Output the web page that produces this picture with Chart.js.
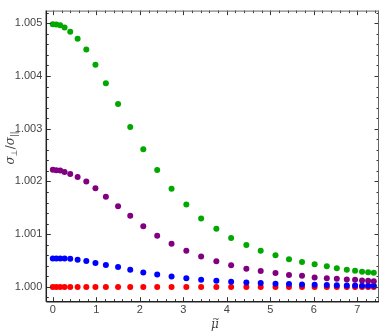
<!DOCTYPE html>
<html lang="en">
<head>
  <meta charset="UTF-8">
  <title>sigma ratio vs mu</title>
  <script src="https://cdn.jsdelivr.net/npm/chart.js"></script>
  <style>
    * { margin: 0; padding: 0; box-sizing: border-box; }
    body { background: #fff; width: 382px; height: 333px; overflow: hidden; }
    #wrap { position: relative; width: 382px; height: 333px; }
  </style>
</head>
<body>
  <div id="wrap"><canvas id="chart" width="382" height="333"></canvas></div>

  <script>
    // values
    const mu = [0, 0.08, 0.17, 0.27, 0.4, 0.57, 0.77, 0.98, 1.22, 1.5, 1.78, 2.08, 2.4, 2.73, 3.07, 3.41,
      3.76, 4.1, 4.45, 4.78, 5.12, 5.43, 5.73, 6.02, 6.3, 6.53, 6.76, 6.95, 7.11, 7.25, 7.38];

    const greenVals = [1.00498, 1.004975, 1.00496, 1.00492, 1.00484, 1.004705, 1.004503, 1.004214, 1.003863,
      1.003471, 1.003035, 1.002611, 1.002219, 1.001864, 1.001562, 1.0013, 1.001101, 1.00093, 1.000796,
      1.000685, 1.000599, 1.000525, 1.000475, 1.00043, 1.000392, 1.000352, 1.000327, 1.000308, 1.00029,
      1.000278, 1.00027];

    const purpleVals = [1.00222, 1.002213, 1.002206, 1.00218, 1.00214, 1.002085, 1.001998, 1.00187, 1.00171,
      1.00153, 1.00135, 1.00115, 1.00097, 1.00082, 1.000687, 1.000577, 1.000486, 1.000413, 1.000344,
      1.000302, 1.000265, 1.000228, 1.000212, 1.000179, 1.000166, 1.000155, 1.000142, 1.000134, 1.000123,
      1.000118, 1.00011];

    const blueVals = [1.000541, 1.000541, 1.00054, 1.000538, 1.000534, 1.000516, 1.000492, 1.000455, 1.000418,
      1.000376, 1.000326, 1.000276, 1.000234, 1.000197, 1.000166, 1.000136, 1.000118, 1.0001, 1.000085,
      1.000073, 1.000062, 1.000054, 1.000047, 1.000041, 1.000036, 1.000032, 1.000029, 1.000026, 1.000024,
      1.000022, 1.000021];

    const redVals = [1.000001, 1.000001, 1.000001, 1.000001, 1.000001, 1.000001, 1.000001, 1.000001, 1.000001,
      1.000001, 1.000001, 1.000001, 1.000001, 1.000001, 1.000001, 1.000001, 1.000001, 1.000001, 1.000001,
      1.000001, 1.000001, 1.000001, 1.000001, 1.000001, 1.000001, 1.000001, 1.000001, 1.000001, 1.000001,
      1.000001, 1.000001];

    const xTicks = [0, 1, 2, 3, 4, 5, 6, 7];
    const yTicks = [1.000, 1.001, 1.002, 1.003, 1.004, 1.005];

    const toPoints = vals => vals.map((v, i) => ({ x: mu[i], y: v }));

    const series = [
      { vals: greenVals, color: '#00a800' },
      { vals: purpleVals, color: '#800080' },
      { vals: blueVals, color: '#0000ff' },
      { vals: redVals, color: '#ff0000' }
    ];

    // frame with inward major/minor ticks on all four sides, plus axis titles
    const framePlugin = {
      id: 'frame',
      afterDraw(chart) {
        const ctx = chart.ctx;
        const a = chart.chartArea;
        const xs = chart.scales.x;
        const ys = chart.scales.y;
        ctx.save();

        // ticks
        ctx.strokeStyle = '#333';
        ctx.lineWidth = 1;
        const tick = (x1, y1, x2, y2) => {
          ctx.beginPath(); ctx.moveTo(x1, y1); ctx.lineTo(x2, y2); ctx.stroke();
        };
        for (let k = -1; k <= 40; k++) {
          const v = k * 0.2;
          if (v < xs.min || v > xs.max) continue;
          const px = Math.round(xs.getPixelForValue(v)) + 0.5;
          const len = k % 5 === 0 ? 4.5 : 2.5;
          tick(px, a.bottom, px, a.bottom - len);
          tick(px, a.top, px, a.top + len);
        }
        for (let k = -2; k <= 30; k++) {
          const v = 1 + k * 0.0002;
          if (v < ys.min || v > ys.max) continue;
          const py = Math.round(ys.getPixelForValue(v)) + 0.5;
          const len = ((k % 5) + 5) % 5 === 0 ? 4.5 : 2.5;
          tick(a.left, py, a.left + len, py);
          tick(a.right, py, a.right - len, py);
        }

        // frame lines
        ctx.strokeStyle = '#666';
        ctx.lineWidth = 1;
        tick(a.left, a.top + 0.5, a.right, a.top + 0.5);
        tick(a.right - 0.5, a.top, a.right - 0.5, a.bottom);
        ctx.strokeStyle = '#222';
        ctx.lineWidth = 1.5;
        tick(a.left, a.bottom, a.right, a.bottom);
        tick(a.left, a.top, a.left, a.bottom);

        // x title
        ctx.fillStyle = '#444';
        ctx.textAlign = 'center';
        ctx.textBaseline = 'middle';
        ctx.font = 'italic 12px "DejaVu Serif"';
        ctx.fillText('μ', 215, 325);
        ctx.font = '9px "DejaVu Sans"';
        ctx.fillText('~', 216, 319.5);

        // y title: sigma_perp / sigma_||
        ctx.translate(10, 148);
        ctx.rotate(-Math.PI / 2);
        ctx.textAlign = 'left';
        ctx.textBaseline = 'alphabetic';
        const parts = [
          { t: 'σ', f: 'italic 12px "DejaVu Serif"', dy: 0 },
          { t: '⊥', f: '8px "DejaVu Sans"', dy: 2.5 },
          { t: '/', f: '12px "DejaVu Sans"', dy: 0 },
          { t: 'σ', f: 'italic 12px "DejaVu Serif"', dy: 0 },
          { t: '||', f: '8px "DejaVu Sans"', dy: 2.5 }
        ];
        let w = 0;
        parts.forEach(p => { ctx.font = p.f; w += ctx.measureText(p.t).width; });
        let x = -w / 2;
        parts.forEach(p => {
          ctx.font = p.f;
          ctx.fillText(p.t, x, 4 + p.dy);
          x += ctx.measureText(p.t).width;
        });
        ctx.restore();
      }
    };

    new Chart(document.getElementById('chart'), {
      type: 'scatter',
      data: {
        datasets: series.map(s => ({
          data: toPoints(s.vals),
          backgroundColor: s.color,
          borderColor: s.color,
          borderWidth: 0,
          pointRadius: 3,
          pointHoverRadius: 3
        }))
      },
      options: {
        responsive: false,
        animation: false,
        events: [],
        layout: { padding: { top: 2, right: 2, left: 0, bottom: 0 } },
        plugins: { legend: { display: false }, tooltip: { enabled: false } },
        scales: {
          x: {
            type: 'linear',
            min: -0.15,
            max: 7.5,
            afterBuildTicks: s => { s.ticks = xTicks.map(v => ({ value: v })); },
            afterFit: s => { s.height = 31.3; },
            grid: { display: false, drawTicks: false },
            border: { display: false },
            ticks: {
              padding: 2,
              color: '#444',
              font: { family: 'Liberation Sans', size: 11 },
              maxRotation: 0,
              callback: v => String(v)
            }
          },
          y: {
            type: 'linear',
            min: 0.99972,
            max: 1.00524,
            afterBuildTicks: s => { s.ticks = yTicks.map(v => ({ value: v })); },
            afterFit: s => { s.width = 46.3; },
            grid: { display: false, drawTicks: false },
            border: { display: false },
            ticks: {
              padding: 4,
              color: '#444',
              font: { family: 'Liberation Sans', size: 11 },
              callback: v => v.toFixed(3)
            }
          }
        }
      },
      plugins: [framePlugin]
    });
  </script>
</body>
</html>
